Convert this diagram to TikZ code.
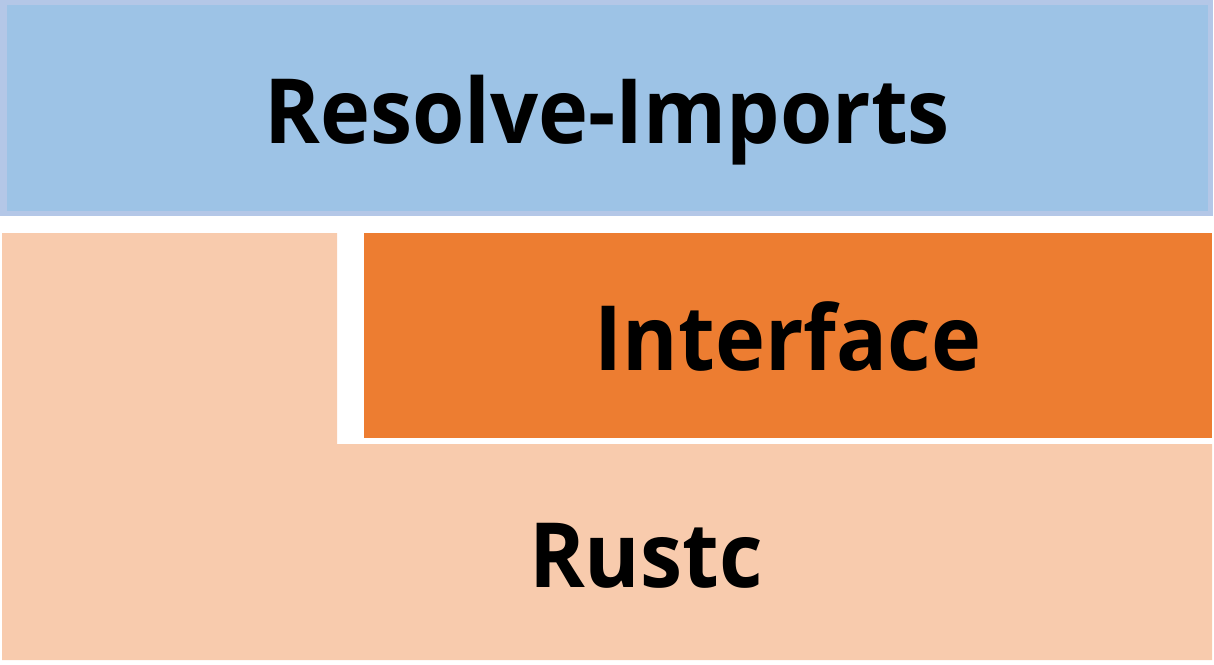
\documentclass[tikz,border=0pt]{standalone}
\usepackage{fontspec}
\setmainfont{Open Sans}
\definecolor{bluefill}{HTML}{9DC3E6}
\definecolor{blueedge}{HTML}{B4C7E7}
\definecolor{orangefill}{HTML}{ED7D31}
\definecolor{peachfill}{HTML}{F8CBAD}
\tikzset{
  lbl/.style={anchor=base, font=\fontsize{90}{96}\selectfont\bfseries, text=black, inner sep=0pt, xscale=0.94},
}
\begin{document}
\begin{tikzpicture}[x=1pt,y=-1pt]
\useasboundingbox (0,0) rectangle (1214,664);
% blue top bar
\fill[blueedge] (0,0) rectangle (1213,216);
\fill[bluefill] (7,5) rectangle (1208,211);
% peach L shape
\fill[peachfill] (2,233) -- (337,233) -- (337,444) -- (1212,444) -- (1212,660) -- (2,660) -- cycle;
% orange box
\fill[orangefill] (364,233) rectangle (1212,438);
% labels
\node[lbl] (resolve) at (607,143) {Resolve-Imports};
\node[lbl] (iface) at (788,370) {Interface};
\node[lbl] (rustc) at (646,587) {Rustc};
\end{tikzpicture}
\end{document}
